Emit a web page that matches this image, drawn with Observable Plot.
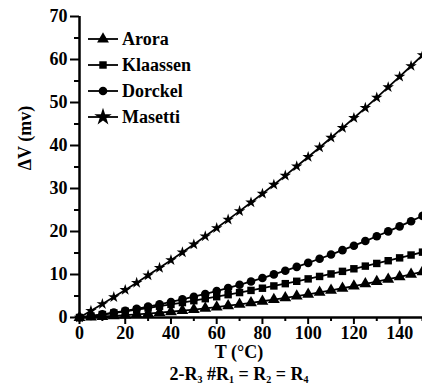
<!DOCTYPE html>
<html>
<head>
<meta charset="utf-8">
<script src="https://cdn.jsdelivr.net/npm/d3@7"></script>
<script src="https://cdn.jsdelivr.net/npm/@observablehq/plot@0.6"></script>
<style>
  html, body { margin: 0; padding: 0; background: #fff; }
  #wrap { position: relative; width: 422px; height: 389px; font-family: "Liberation Serif", "Times New Roman", Times, "Nimbus Roman", "DejaVu Serif", serif; font-weight: bold; color: #000; }
  .lab { position: absolute; font-size: 18px; white-space: nowrap; line-height: 1; }
  sub { font-size: 10px; vertical-align: -3px; line-height: 0; }
  #legend { position: absolute; left: 86px; top: 26px; }
  .row { display: flex; align-items: center; height: 26px; font-size: 18px; }
  .row svg { margin-right: 3px; }
</style>
</head>
<body>
<div id="wrap"></div>
<script>
const temps = [0,5,10,15,20,25,30,35,40,45,50,55,60,65,70,75,80,85,90,95,100,105,110,115,120,125,130,135,140,145,150];
const arora    = [0,0.11,0.23,0.38,0.54,0.71,0.91,1.12,1.34,1.59,1.85,2.13,2.42,2.74,3.07,3.41,3.78,4.16,4.55,4.97,5.40,5.85,6.31,6.80,7.30,7.81,8.35,8.90,9.46,10.05,10.65];
const klaassen = [0,0.34,0.69,1.05,1.43,1.81,2.21,2.62,3.04,3.47,3.91,4.37,4.83,5.31,5.80,6.30,6.81,7.34,7.87,8.42,8.98,9.55,10.13,10.73,11.33,11.95,12.57,13.21,13.87,14.53,15.20];
const dorckel  = [0,0.35,0.72,1.13,1.56,2.03,2.53,3.06,3.62,4.21,4.83,5.48,6.16,6.87,7.61,8.38,9.18,10.02,10.88,11.78,12.70,13.66,14.64,15.66,16.70,17.78,18.89,20.03,21.20,22.40,23.63];
const masetti  = [0,1.55,3.13,4.75,6.40,8.08,9.80,11.55,13.34,15.15,17.00,18.89,20.80,22.76,24.74,26.75,28.80,30.89,33.00,35.16,37.34,39.55,41.81,44.09,46.40,48.76,51.14,53.56,56.01,58.49,61.01];
const seriesNames = ["Arora", "Klaassen", "Dorckel", "Masetti"];
const seriesSymbols = ["triangle", "square", "circle", "star"];
const seriesValues = [arora, klaassen, dorckel, masetti];
const xTicks = [0,20,40,60,80,100,120,140];
const xMinor = [10,30,50,70,90,110,130,150];
const yTicks = [0,10,20,30,40,50,60,70];
const yMinor = [5,15,25,35,45,55,65];
const yLabel = "ΔV (mv)";
const xLabel = "T (°C)";

const symbolSize = {triangle: 4.4, square: 4.2, circle: 4.3, star: 3.6};
const FONT = '"Liberation Serif", "Times New Roman", Times, "Nimbus Roman", "DejaVu Serif", serif';

const rows = seriesNames.flatMap((name, k) => temps.map((t, i) => ({T: t, V: seriesValues[k][i], name, symbol: seriesSymbols[k]})));

const marks = [
  Plot.line(rows, {x: "T", y: "V", z: "name", stroke: "black", strokeWidth: 1.8}),
  ...seriesNames.map((name, k) => Plot.dot(rows.filter(d => d.name === name), {
    x: "T", y: "V", symbol: seriesSymbols[k], fill: "black", stroke: "none", r: symbolSize[seriesSymbols[k]]
  })),
  Plot.axisY(yTicks, {tickSize: 9, tickPadding: 3, strokeWidth: 2, label: null}),
  Plot.axisY(yMinor, {tickSize: 5, text: null, strokeWidth: 2, label: null}),
  Plot.axisX(xTicks, {tickSize: 7, tickPadding: 2, strokeWidth: 2, label: null}),
  Plot.axisX(xMinor, {tickSize: 4, text: null, strokeWidth: 2, label: null}),
  Plot.ruleX([0], {strokeWidth: 2.5}),
  Plot.ruleY([0], {strokeWidth: 2.5})
];

const chart = Plot.plot({
  width: 422,
  height: 362,
  marginLeft: 79,
  marginRight: 0,
  marginTop: 16,
  marginBottom: 45,
  x: {domain: [0, 150]},
  y: {domain: [0, 70]},
  style: {fontFamily: FONT, fontWeight: "bold", fontSize: "18px", background: "white", color: "black", overflow: "visible"},
  marks
});

const wrap = document.getElementById("wrap");
wrap.appendChild(chart);

const yl = document.createElement("div");
yl.className = "lab";
yl.textContent = yLabel;
yl.style.left = "25px";
yl.style.top = "138px";
yl.style.transform = "translate(-50%, -50%) rotate(-90deg)";
wrap.appendChild(yl);

const xl = document.createElement("div");
xl.className = "lab";
xl.textContent = xLabel;
xl.style.left = "239px";
xl.style.top = "352px";
xl.style.transform = "translate(-50%, -50%)";
wrap.appendChild(xl);

const sl = document.createElement("div");
sl.className = "lab";
sl.innerHTML = "2-R<sub>3</sub> #R<sub>1</sub> = R<sub>2</sub> = R<sub>4</sub>";
sl.style.left = "239px";
sl.style.top = "374px";
sl.style.transform = "translate(-50%, -50%)";
wrap.appendChild(sl);

const legend = document.createElement("div");
legend.id = "legend";
const symMap = {triangle: d3.symbolTriangle, square: d3.symbolSquare, circle: d3.symbolCircle, star: d3.symbolStar};
seriesNames.forEach((name, k) => {
  const row = document.createElement("div");
  row.className = "row";
  const s = seriesSymbols[k];
  const r = s === "star" ? 5.5 : symbolSize[s];
  const path = d3.symbol(symMap[s], Math.PI * r * r)();
  row.innerHTML = `<svg width="33" height="20" viewBox="0 0 33 20"><line x1="2" y1="10" x2="32" y2="10" stroke="black" stroke-width="1.8"/><path d="${path}" transform="translate(17,10)" fill="black"/></svg><span>${name}</span>`;
  legend.appendChild(row);
});
wrap.appendChild(legend);
</script>
</body>
</html>
